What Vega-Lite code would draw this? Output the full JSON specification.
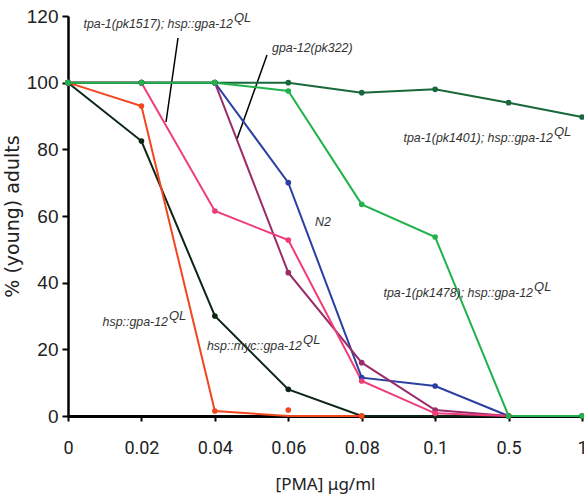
{
  "$schema": "https://vega.github.io/schema/vega-lite/v6.json",
  "width": 514,
  "height": 400,
  "autosize": "none",
  "padding": {"left": 68, "top": 16, "right": 2, "bottom": 83},
  "background": "white",
  "config": {"view": {"stroke": null}},
  "datasets": {
    "curves": [
      {"s": "k", "i": 0, "y": 100}, {"s": "k", "i": 1, "y": 82.5}, {"s": "k", "i": 2, "y": 30}, {"s": "k", "i": 3, "y": 8},
      {"s": "k", "i": 4, "y": 0}, {"s": "k", "i": 5, "y": 0}, {"s": "k", "i": 6, "y": 0}, {"s": "k", "i": 7, "y": 0},
      {"s": "o", "i": 0, "y": 100}, {"s": "o", "i": 1, "y": 93}, {"s": "o", "i": 2, "y": 1.5}, {"s": "o", "i": 3, "y": 0}, {"s": "o", "i": 4, "y": 0},
      {"s": "b", "i": 0, "y": 100}, {"s": "b", "i": 1, "y": 100}, {"s": "b", "i": 2, "y": 100}, {"s": "b", "i": 3, "y": 70},
      {"s": "b", "i": 4, "y": 11.5}, {"s": "b", "i": 5, "y": 9}, {"s": "b", "i": 6, "y": 0},
      {"s": "m", "i": 0, "y": 100}, {"s": "m", "i": 1, "y": 100}, {"s": "m", "i": 2, "y": 100}, {"s": "m", "i": 3, "y": 43},
      {"s": "m", "i": 4, "y": 16}, {"s": "m", "i": 5, "y": 1.8}, {"s": "m", "i": 6, "y": 0},
      {"s": "p", "i": 0, "y": 100}, {"s": "p", "i": 1, "y": 100}, {"s": "p", "i": 2, "y": 61.5}, {"s": "p", "i": 3, "y": 52.8},
      {"s": "p", "i": 4, "y": 10.5}, {"s": "p", "i": 5, "y": 0.8}, {"s": "p", "i": 6, "y": 0},
      {"s": "d", "i": 0, "y": 100}, {"s": "d", "i": 1, "y": 100}, {"s": "d", "i": 2, "y": 100}, {"s": "d", "i": 3, "y": 100},
      {"s": "d", "i": 4, "y": 97}, {"s": "d", "i": 5, "y": 98}, {"s": "d", "i": 6, "y": 94}, {"s": "d", "i": 7, "y": 89.7},
      {"s": "g", "i": 0, "y": 100}, {"s": "g", "i": 1, "y": 100}, {"s": "g", "i": 2, "y": 100}, {"s": "g", "i": 3, "y": 97.5},
      {"s": "g", "i": 4, "y": 63.5}, {"s": "g", "i": 5, "y": 53.7}, {"s": "g", "i": 6, "y": 0}, {"s": "g", "i": 7, "y": 0}
    ],
    "extra": [{"s": "o", "i": 3, "y": 1.8}],
    "supLabels": [
      {"t": "tpa-1(pk1517); hsp::gpa-12", "x": 2.247, "y": 116.4},
      {"t": "tpa-1(pk1401); hsp::gpa-12", "x": 6.605, "y": 82.2},
      {"t": "tpa-1(pk1478); hsp::gpa-12", "x": 6.333, "y": 35.7},
      {"t": "hsp::gpa-12", "x": 1.362, "y": 27},
      {"t": "hsp::myc::gpa-12", "x": 3.187, "y": 19.8}
    ],
    "plainLabels": [
      {"t": "gpa-12(pk322)", "x": 2.778, "y": 109.2},
      {"t": "N2", "x": 3.364, "y": 57}
    ],
    "leaders": [
      {"x": 1.498, "y": 113.4, "x2": 1.335, "y2": 88.2},
      {"x": 2.71, "y": 108.3, "x2": 2.302, "y2": 83.1}
    ]
  },
  "encoding": {
    "x": {
      "type": "quantitative",
      "scale": {"domain": [0, 7], "nice": false, "zero": false},
      "axis": {
        "values": [0, 1, 2, 3, 4, 5, 6, 7],
        "labelExpr": "['0','0.02','0.04','0.06','0.08','0.1','0.5','1'][datum.value]",
        "grid": false,
        "domainColor": "#000", "domainWidth": 3,
        "tickColor": "#000", "tickWidth": 2, "tickSize": 5,
        "labelFont": "Roboto", "labelFontSize": 18, "labelColor": "#222", "labelPadding": 18,
        "labelFlush": false,
        "title": "[PMA] μg/ml",
        "titleFont": "Noto Sans", "titleFontSize": 17, "titleFontWeight": "normal", "titleColor": "#222",
        "titlePadding": 19
      }
    },
    "y": {
      "type": "quantitative",
      "scale": {"domain": [0, 120], "nice": false},
      "axis": {
        "values": [0, 20, 40, 60, 80, 100, 120],
        "grid": false,
        "domainColor": "#000", "domainWidth": 2.5,
        "tickColor": "#000", "tickWidth": 2, "tickSize": 6,
        "labelFont": "Liberation Sans", "labelFontSize": 19, "labelColor": "#222", "labelPadding": 4,
        "title": "% (young) adults",
        "titleFont": "DejaVu Sans", "titleFontSize": 19, "titleFontWeight": "normal", "titleColor": "#222",
        "titlePadding": 4
      }
    }
  },
  "layer": [
    {
      "data": {"name": "leaders"},
      "mark": {"type": "rule", "color": "#000", "strokeWidth": 1.5},
      "encoding": {"x": {"field": "x"}, "y": {"field": "y"}, "x2": {"field": "x2"}, "y2": {"field": "y2"}}
    },
    {
      "data": {"name": "curves"},
      "mark": {"type": "line", "strokeWidth": 2, "clip": false},
      "encoding": {
        "x": {"field": "i"},
        "y": {"field": "y"},
        "color": {"field": "s", "type": "nominal", "legend": null,
          "scale": {"domain": ["k", "o", "b", "m", "p", "d", "g"],
                    "range": ["#0c2616", "#f2461f", "#2b3fa0", "#9a2c6a", "#f03c7a", "#17683a", "#22b24c"]}},
        "order": {"field": "i"}
      }
    },
    {
      "data": {"name": "curves"},
      "transform": [{"filter": "!(datum.s === 'o' && datum.i === 3)"}],
      "mark": {"type": "point", "filled": true, "size": 32, "opacity": 1, "clip": false},
      "encoding": {
        "x": {"field": "i"},
        "y": {"field": "y"},
        "color": {"field": "s", "type": "nominal", "legend": null}
      }
    },
    {
      "data": {"name": "extra"},
      "mark": {"type": "point", "filled": true, "size": 32, "opacity": 1},
      "encoding": {
        "x": {"field": "i"},
        "y": {"field": "y"},
        "color": {"field": "s", "type": "nominal", "legend": null}
      }
    },
    {
      "data": {"name": "supLabels"},
      "mark": {"type": "text", "align": "right", "baseline": "alphabetic", "font": "Liberation Sans", "fontStyle": "italic", "fontSize": 12.4, "color": "#333"},
      "encoding": {"x": {"field": "x"}, "y": {"field": "y"}, "text": {"field": "t"}}
    },
    {
      "data": {"name": "supLabels"},
      "mark": {"type": "text", "align": "left", "baseline": "alphabetic", "dx": 1, "dy": -6, "font": "Liberation Sans", "fontStyle": "italic", "fontSize": 13, "color": "#333"},
      "encoding": {"x": {"field": "x"}, "y": {"field": "y"}, "text": {"value": "QL"}}
    },
    {
      "data": {"name": "plainLabels"},
      "mark": {"type": "text", "align": "left", "baseline": "alphabetic", "font": "Liberation Sans", "fontStyle": "italic", "fontSize": 12.4, "color": "#333"},
      "encoding": {"x": {"field": "x"}, "y": {"field": "y"}, "text": {"field": "t"}}
    }
  ]
}
